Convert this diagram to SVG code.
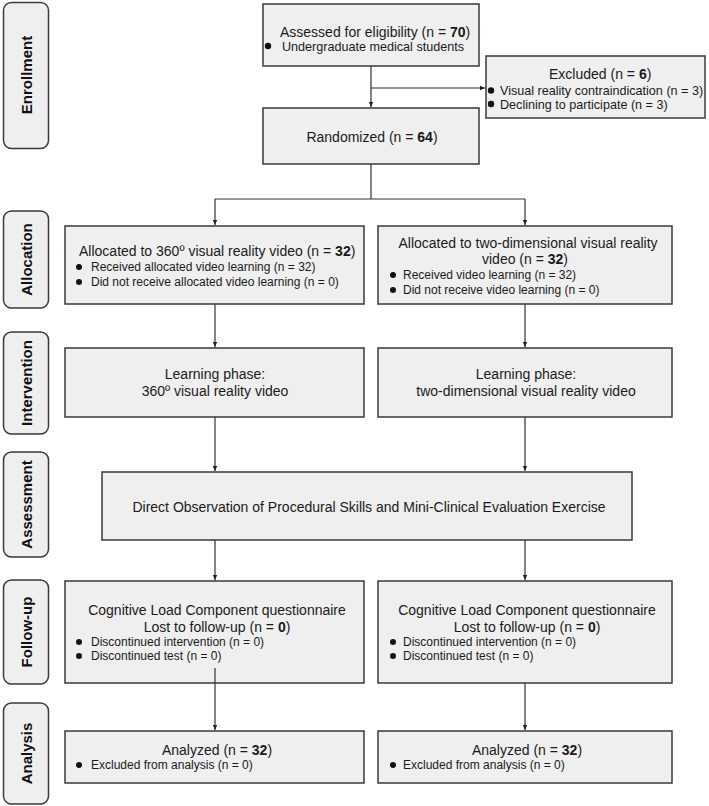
<svg xmlns="http://www.w3.org/2000/svg" width="709" height="806" viewBox="0 0 709 806">
<defs>
<marker id="ah" markerWidth="6" markerHeight="6" refX="5" refY="3" orient="auto" markerUnits="userSpaceOnUse">
<path d="M0,0.8 L5,3 L0,5.2 Z" fill="#222"/>
</marker>
<style>
.bx{fill:#efefef;stroke:#3a3a3a;stroke-width:1.5}
.lb{fill:#efefef;stroke:#3a3a3a;stroke-width:1.5}
.t{font-family:"Liberation Sans",Arial,sans-serif;font-size:14px;fill:#1a1a1a}
.s{font-family:"Liberation Sans",Arial,sans-serif;font-size:12px;fill:#1a1a1a}
.s2{font-family:"Liberation Sans",Arial,sans-serif;font-size:12.6px;fill:#1a1a1a}
.lt{font-family:"Liberation Sans",Arial,sans-serif;font-size:15px;font-weight:bold;fill:#111}
.c{text-anchor:middle}
.b{font-weight:bold}
.dot{fill:#111}
.ln{stroke:#333;stroke-width:1.2;fill:none}
</style>
</defs>
<rect width="709" height="806" fill="#fff"/>

<g id="labels">
<g id="lbl-enrollment"><rect class="lb" x="3.5" y="2.5" width="45" height="146" rx="8"/><text class="lt c" transform="translate(31.5,75) rotate(-90)">Enrollment</text></g>
<g id="lbl-allocation"><rect class="lb" x="3.5" y="211" width="45" height="97" rx="8"/><text class="lt c" transform="translate(31.5,259.5) rotate(-90)">Allocation</text></g>
<g id="lbl-intervention"><rect class="lb" x="3.5" y="332" width="45" height="102" rx="8"/><text class="lt c" transform="translate(31.5,383) rotate(-90)">Intervention</text></g>
<g id="lbl-assessment"><rect class="lb" x="3.5" y="452" width="45" height="105" rx="8"/><text class="lt c" transform="translate(31.5,504.5) rotate(-90)">Assessment</text></g>
<g id="lbl-followup"><rect class="lb" x="3.5" y="580" width="45" height="104" rx="8"/><text class="lt c" transform="translate(31.5,632) rotate(-90)">Follow-up</text></g>
<g id="lbl-analysis"><rect class="lb" x="3.5" y="703" width="45" height="101" rx="8"/><text class="lt c" transform="translate(31.5,753.5) rotate(-90)">Analysis</text></g>
</g>

<g id="connectors">
<line class="ln" x1="371" y1="66" x2="371" y2="107" marker-end="url(#ah)"/>
<line class="ln" x1="371" y1="88" x2="485" y2="88" marker-end="url(#ah)"/>
<polyline class="ln" points="371,164 371,199"/>
<polyline class="ln" points="215,199 525,199"/>
<line class="ln" x1="215" y1="199" x2="215" y2="225" marker-end="url(#ah)"/>
<line class="ln" x1="525" y1="199" x2="525" y2="225" marker-end="url(#ah)"/>
<line class="ln" x1="215" y1="304" x2="215" y2="347" marker-end="url(#ah)"/>
<line class="ln" x1="525" y1="304" x2="525" y2="347" marker-end="url(#ah)"/>
<line class="ln" x1="215" y1="417" x2="215" y2="471" marker-end="url(#ah)"/>
<line class="ln" x1="525" y1="417" x2="525" y2="471" marker-end="url(#ah)"/>
<line class="ln" x1="215" y1="540" x2="215" y2="580" marker-end="url(#ah)"/>
<line class="ln" x1="525" y1="540" x2="525" y2="580" marker-end="url(#ah)"/>
<line class="ln" x1="215" y1="683" x2="215" y2="730" marker-end="url(#ah)"/>
<line class="ln" x1="525" y1="683" x2="525" y2="730" marker-end="url(#ah)"/>
</g>

<g id="assessed">
<rect class="bx" x="263" y="4" width="216" height="62"/>
<text class="t" x="280" y="37">Assessed for eligibility (n = <tspan class="b">70</tspan>)</text>
<circle class="dot" cx="268" cy="46" r="3.2"/>
<text class="s2" x="282" y="50.5">Undergraduate medical students</text>
</g>

<g id="excluded">
<rect class="bx" x="486" y="56" width="219" height="62"/>
<text class="t" x="549" y="79">Excluded (n = <tspan class="b">6</tspan>)</text>
<circle class="dot" cx="491" cy="90.5" r="3.2"/>
<text class="s2" x="500" y="95">Visual reality contraindication (n = 3)</text>
<circle class="dot" cx="491" cy="104" r="3.2"/>
<text class="s2" x="500" y="108.5">Declining to participate (n = 3)</text>
</g>

<g id="randomized">
<rect class="bx" x="263" y="108" width="216" height="56"/>
<text class="t c" x="372" y="142">Randomized (n = <tspan class="b">64</tspan>)</text>
</g>

<g id="alloc-left">
<rect class="bx" x="65" y="226" width="299" height="78"/>
<text class="t" x="79" y="256">Allocated to 360º visual reality video (n = <tspan class="b">32</tspan>)</text>
<circle class="dot" cx="79" cy="267" r="3"/>
<text class="s" x="91" y="271">Received allocated video learning (n = 32)</text>
<circle class="dot" cx="79" cy="282" r="3"/>
<text class="s" x="91" y="286">Did not receive allocated video learning (n = 0)</text>
</g>

<g id="alloc-right">
<rect class="bx" x="378" y="226" width="294" height="78"/>
<text class="t c" x="528" y="248">Allocated to two-dimensional visual reality</text>
<text class="t c" x="525" y="264">video (n = <tspan class="b">32</tspan>)</text>
<circle class="dot" cx="393" cy="275" r="3"/>
<text class="s" x="403" y="279">Received video learning (n = 32)</text>
<circle class="dot" cx="393" cy="290" r="3"/>
<text class="s" x="403" y="294">Did not receive video learning (n = 0)</text>
</g>

<g id="interv-left">
<rect class="bx" x="65" y="348" width="299" height="69"/>
<text class="t c" x="215" y="379">Learning phase:</text>
<text class="t c" x="215" y="396">360º visual reality video</text>
</g>

<g id="interv-right">
<rect class="bx" x="378" y="348" width="294" height="69"/>
<text class="t c" x="526" y="379">Learning phase:</text>
<text class="t c" x="526" y="396">two-dimensional visual reality video</text>
</g>

<g id="assessment">
<rect class="bx" x="102" y="472" width="530" height="68"/>
<text class="t c" x="369" y="512">Direct Observation of Procedural Skills and Mini-Clinical Evaluation Exercise</text>
</g>

<g id="followup-left">
<rect class="bx" x="65" y="581" width="299" height="102"/>
<text class="t c" x="217" y="615">Cognitive Load Component questionnaire</text>
<text class="t c" x="217" y="632">Lost to follow-up (n = <tspan class="b">0</tspan>)</text>
<circle class="dot" cx="79" cy="642" r="3"/>
<text class="s" x="91" y="646">Discontinued intervention (n = 0)</text>
<circle class="dot" cx="79" cy="656" r="3"/>
<text class="s" x="91" y="660">Discontinued test (n = 0)</text>
</g>

<g id="followup-right">
<rect class="bx" x="378" y="581" width="294" height="102"/>
<text class="t c" x="527" y="615">Cognitive Load Component questionnaire</text>
<text class="t c" x="527" y="632">Lost to follow-up (n = <tspan class="b">0</tspan>)</text>
<circle class="dot" cx="393" cy="642" r="3"/>
<text class="s" x="403" y="646">Discontinued intervention (n = 0)</text>
<circle class="dot" cx="393" cy="656" r="3"/>
<text class="s" x="403" y="660">Discontinued test (n = 0)</text>
</g>

<g id="analysis-left">
<rect class="bx" x="65" y="731" width="299" height="52"/>
<text class="t c" x="217" y="755">Analyzed (n = <tspan class="b">32</tspan>)</text>
<circle class="dot" cx="79" cy="765" r="3"/>
<text class="s" x="91" y="769">Excluded from analysis (n = 0)</text>
</g>

<g id="analysis-right">
<rect class="bx" x="378" y="731" width="294" height="52"/>
<text class="t c" x="527" y="755">Analyzed (n = <tspan class="b">32</tspan>)</text>
<circle class="dot" cx="393" cy="765" r="3"/>
<text class="s" x="403" y="769">Excluded from analysis (n = 0)</text>
</g>

<line class="ln" x1="215" y1="668" x2="215" y2="683"/>
</svg>
